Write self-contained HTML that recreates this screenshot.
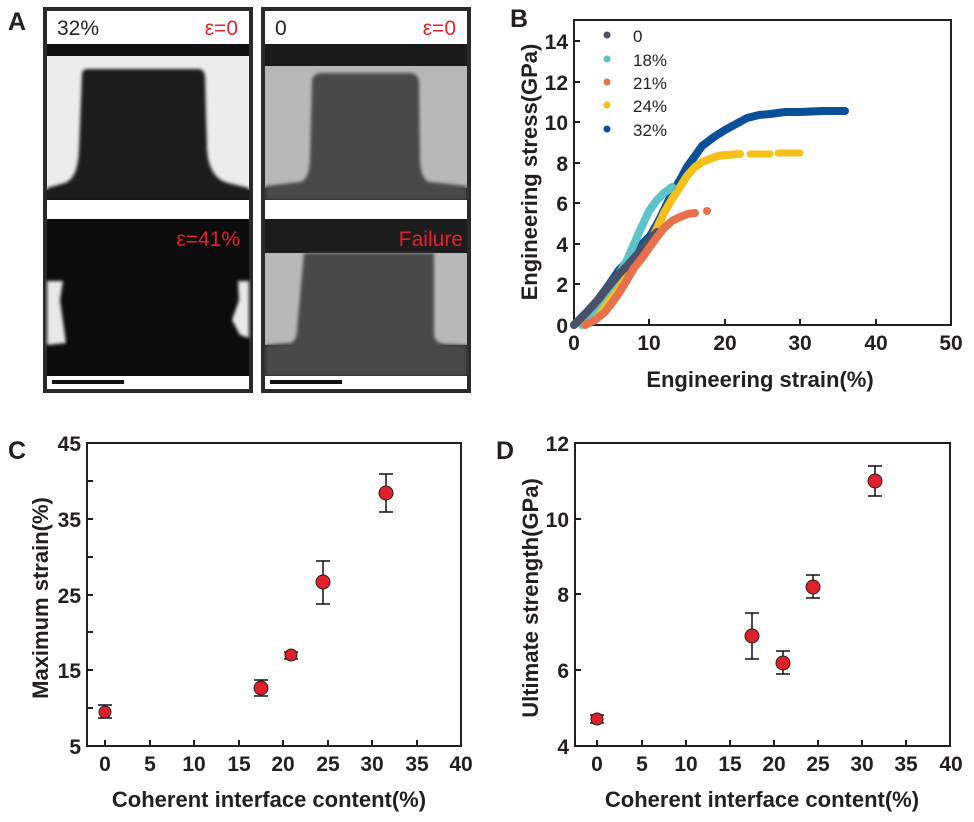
<!DOCTYPE html>
<html><head><meta charset="utf-8"><style>
html,body{margin:0;padding:0;background:#fff;}
svg{display:block;font-family:"Liberation Sans",sans-serif;}
.lbl{font-weight:bold;font-size:25px;fill:#231f20;}
.tk{font-weight:bold;font-size:21px;fill:#231f20;}
.ax{font-weight:bold;font-size:22px;fill:#231f20;}
</style></head><body>
<svg width="974" height="822" viewBox="0 0 974 822" xmlns="http://www.w3.org/2000/svg">
<defs>
<filter id="bl" x="-10%" y="-10%" width="120%" height="120%"><feGaussianBlur stdDeviation="1.5"/></filter>
</defs>
<text class="lbl" x="8" y="30">A</text>
<text class="lbl" x="510" y="27">B</text>
<text class="lbl" x="8" y="459">C</text>
<text class="lbl" x="496" y="459">D</text>

<!-- Panel A left -->
<rect x="43" y="7" width="210" height="386" fill="#2a2a2a"/>
<rect x="47" y="11" width="202" height="33" fill="#fff"/>
<text x="57" y="35" font-size="21" fill="#222">32%</text>
<text x="238" y="35" font-size="21" fill="#e8202a" text-anchor="end">ε=0</text>
<rect x="47" y="44" width="202" height="156" fill="#111"/>
<rect x="47" y="56" width="202" height="134" fill="#ececec"/>
<path d="M82,74 Q82,69 88,69 L198,69 Q204,69 205,76 L207,150 Q209,178 228,183 L249,188 L249,200 L47,200 L47,188 L65,183 Q78,178 79,150 Z" fill="#1e1e1e" filter="url(#bl)"/>
<rect x="47" y="200" width="202" height="19" fill="#fff"/>
<rect x="47" y="219" width="202" height="157" fill="#0c0c0c"/>
<path d="M47,281 L63,281 L60,300 L66,343 L47,345 Z" fill="#e8e8e8" filter="url(#bl)"/>
<path d="M249,281 L238,281 L239,300 L232,320 L240,335 L249,338 Z" fill="#e8e8e8" filter="url(#bl)"/>
<text x="240" y="246" font-size="21" fill="#e8202a" text-anchor="end">ε=41%</text>
<rect x="47" y="376" width="202" height="13" fill="#fff"/>
<rect x="52" y="380" width="72" height="4" fill="#111"/>

<!-- Panel A right -->
<rect x="261" y="7" width="210" height="386" fill="#2a2a2a"/>
<rect x="265" y="11" width="202" height="33" fill="#fff"/>
<text x="275" y="35" font-size="21" fill="#222">0</text>
<text x="456" y="35" font-size="21" fill="#e8202a" text-anchor="end">ε=0</text>
<rect x="265" y="44" width="202" height="156" fill="#1a1a1a"/>
<rect x="265" y="66" width="202" height="122" fill="#b8b8b8"/>
<path d="M312,80 Q314,73 322,73 L410,73 Q418,73 419,82 L420,160 Q421,180 430,182 L467,186 L467,200 L265,200 L265,186 L300,182 Q309,180 310,160 Z" fill="#4a4a4a" filter="url(#bl)"/>
<rect x="265" y="200" width="202" height="19" fill="#fff"/>
<rect x="265" y="219" width="202" height="157" fill="#1c1c1c"/>
<rect x="265" y="253" width="202" height="92" fill="#b8b8b8"/>
<path d="M304,253 L434,253 L434,335 Q435,343 445,344 L467,345 L467,376 L265,376 L265,345 L290,343 Q297,341 297,330 Z" fill="#484848" filter="url(#bl)"/>
<text x="463" y="246" font-size="21" fill="#e8202a" text-anchor="end">Failure</text>
<rect x="265" y="376" width="202" height="13" fill="#fff"/>
<rect x="270" y="380" width="72" height="4" fill="#111"/>

<!-- Panel B -->
<g>
<rect x="574" y="20" width="377" height="305" fill="none" stroke="#231f20" stroke-width="2"/>
<g stroke="#231f20" stroke-width="2">
<line x1="574" y1="325" x2="574" y2="319"/><line x1="649" y1="325" x2="649" y2="319"/><line x1="725" y1="325" x2="725" y2="319"/><line x1="800" y1="325" x2="800" y2="319"/><line x1="876" y1="325" x2="876" y2="319"/>
<line x1="574" y1="284" x2="580" y2="284"/><line x1="574" y1="244" x2="580" y2="244"/><line x1="574" y1="203" x2="580" y2="203"/><line x1="574" y1="163" x2="580" y2="163"/><line x1="574" y1="122" x2="580" y2="122"/><line x1="574" y1="82" x2="580" y2="82"/><line x1="574" y1="41" x2="580" y2="41"/>
</g>
<g class="tk" text-anchor="middle" font-size="23">
<text x="574" y="350">0</text><text x="649" y="350">10</text><text x="725" y="350">20</text><text x="800" y="350">30</text><text x="876" y="350">40</text><text x="951" y="350">50</text>
</g>
<g class="tk" text-anchor="end" font-size="23">
<text x="568" y="333">0</text><text x="568" y="292">2</text><text x="568" y="252">4</text><text x="568" y="211">6</text><text x="568" y="171">8</text><text x="568" y="130">10</text><text x="568" y="90">12</text><text x="568" y="49">14</text>
</g>
<text class="ax" x="760" y="387" text-anchor="middle" font-size="23">Engineering strain(%)</text>
<text class="ax" transform="translate(537,172) rotate(-90)" text-anchor="middle" font-size="24">Engineering stress(GPa)</text>
<g fill="none" stroke-width="8" stroke-linecap="round" stroke-linejoin="round">
<polyline stroke="#0a4f9a" points="574,325 586,313 597,301 608,286 619,270 631,258 642,244 650,236 657,224 665,208 672,193 680,180 687,167 695,156 702,146 714,137 725,130 736,124 747,118 759,115 770,114 785,112 800,112 822,111 845,111"/>
<polyline stroke="#f5c01a" points="582,325 593,313 604,301 616,287 627,274 638,260 649,244 657,228 664,213 672,199 680,187 687,176 695,167 702,162 710,159 718,156 725,155 740,154"/>
<polyline stroke="#5cc4c8" points="582,325 593,310 604,295 612,285 619,274 627,260 634,244 642,226 649,211 657,200 664,193 672,187"/>
<polyline stroke="#4a5068" points="574,325 586,313 597,301 608,287 619,274 627,266 634,258 642,249 649,240 657,232"/>
<polyline stroke="#e8704a" points="585,325 595,320 604,313 612,303 619,293 627,280 634,268 642,258 649,248 657,237 664,228 672,221 680,217 688,214 695,213"/>
</g>
<g stroke="#f5c01a" stroke-width="7" stroke-linecap="round"><line x1="750" y1="154" x2="770" y2="154"/><line x1="778" y1="153" x2="800" y2="153"/></g>
<circle cx="707" cy="211" r="4" fill="#e8704a"/>
<circle cx="607" cy="35" r="3.5" fill="#4a5068"/>
<circle cx="607" cy="59" r="3.5" fill="#5cc4c8"/>
<circle cx="607" cy="82" r="3.5" fill="#e8704a"/>
<circle cx="607" cy="105" r="3.5" fill="#f5c01a"/>
<circle cx="607" cy="129" r="3.5" fill="#0a4f9a"/>
<g font-size="17" fill="#231f20">
<text x="633" y="42">0</text><text x="633" y="66">18%</text><text x="633" y="89">21%</text><text x="633" y="112">24%</text><text x="633" y="136">32%</text>
</g>
</g>

<!-- Panel C -->
<g>
<rect x="87" y="443" width="374" height="303" fill="none" stroke="#231f20" stroke-width="2"/>
<g stroke="#231f20" stroke-width="2">
<line x1="105" y1="746" x2="105" y2="740"/><line x1="150" y1="746" x2="150" y2="740"/><line x1="194" y1="746" x2="194" y2="740"/><line x1="239" y1="746" x2="239" y2="740"/><line x1="283" y1="746" x2="283" y2="740"/><line x1="328" y1="746" x2="328" y2="740"/><line x1="372" y1="746" x2="372" y2="740"/><line x1="417" y1="746" x2="417" y2="740"/>
<line x1="87" y1="708" x2="93" y2="708"/><line x1="87" y1="670" x2="93" y2="670"/><line x1="87" y1="632" x2="93" y2="632"/><line x1="87" y1="595" x2="93" y2="595"/><line x1="87" y1="557" x2="93" y2="557"/><line x1="87" y1="519" x2="93" y2="519"/><line x1="87" y1="481" x2="93" y2="481"/>
</g>
<g class="tk" text-anchor="middle">
<text x="105" y="771">0</text><text x="150" y="771">5</text><text x="194" y="771">10</text><text x="239" y="771">15</text><text x="283" y="771">20</text><text x="328" y="771">25</text><text x="372" y="771">30</text><text x="417" y="771">35</text><text x="461" y="771">40</text>
</g>
<g class="tk" text-anchor="end">
<text x="81" y="754">5</text><text x="81" y="678">15</text><text x="81" y="603">25</text><text x="81" y="527">35</text><text x="81" y="451">45</text>
</g>
<text class="ax" x="269" y="807" text-anchor="middle">Coherent interface content(%)</text>
<text class="ax" transform="translate(48,598) rotate(-90)" text-anchor="middle">Maximum strain(%)</text>
<g stroke="#111" stroke-width="1.5" fill="none">
<path d="M98,705 h14 M98,718 h14 M105,705 v13"/>
<path d="M254,680 h14 M254,696 h14 M261,680 v16"/>
<path d="M284,652 h14 M284,659 h14"/>
<path d="M316,561 h14 M316,604 h14 M323,561 v43"/>
<path d="M379,474 h14 M379,512 h14 M386,474 v38"/>
</g>
<g fill="#e0202a" stroke="#222" stroke-width="1">
<circle cx="105" cy="712" r="6"/><circle cx="261" cy="688" r="7"/><circle cx="291" cy="655" r="6"/><circle cx="323" cy="582" r="7"/><circle cx="386" cy="493" r="7"/>
</g>
</g>

<!-- Panel D -->
<g>
<rect x="575" y="443" width="375" height="303" fill="none" stroke="#231f20" stroke-width="2"/>
<g stroke="#231f20" stroke-width="2">
<line x1="597" y1="746" x2="597" y2="740"/><line x1="642" y1="746" x2="642" y2="740"/><line x1="686" y1="746" x2="686" y2="740"/><line x1="730" y1="746" x2="730" y2="740"/><line x1="774" y1="746" x2="774" y2="740"/><line x1="818" y1="746" x2="818" y2="740"/><line x1="862" y1="746" x2="862" y2="740"/><line x1="906" y1="746" x2="906" y2="740"/>
<line x1="575" y1="670" x2="581" y2="670"/><line x1="575" y1="594" x2="581" y2="594"/><line x1="575" y1="519" x2="581" y2="519"/>
</g>
<g class="tk" text-anchor="middle">
<text x="597" y="771">0</text><text x="642" y="771">5</text><text x="686" y="771">10</text><text x="730" y="771">15</text><text x="774" y="771">20</text><text x="818" y="771">25</text><text x="862" y="771">30</text><text x="906" y="771">35</text><text x="951" y="771">40</text>
</g>
<g class="tk" text-anchor="end">
<text x="569" y="754">4</text><text x="569" y="678">6</text><text x="569" y="602">8</text><text x="569" y="527">10</text><text x="569" y="451">12</text>
</g>
<text class="ax" x="762" y="807" text-anchor="middle">Coherent interface content(%)</text>
<text class="ax" transform="translate(538,598) rotate(-90)" text-anchor="middle">Ultimate strength(GPa)</text>
<g stroke="#111" stroke-width="1.5" fill="none">
<path d="M590,715 h14 M590,723 h14"/>
<path d="M745,613 h14 M745,659 h14 M752,613 v46"/>
<path d="M776,651 h14 M776,674 h14 M783,651 v23"/>
<path d="M806,575 h14 M806,598 h14 M813,575 v23"/>
<path d="M868,466 h14 M868,496 h14 M875,466 v30"/>
</g>
<g fill="#e0202a" stroke="#222" stroke-width="1">
<circle cx="597" cy="719" r="6"/><circle cx="752" cy="636" r="7"/><circle cx="783" cy="663" r="7"/><circle cx="813" cy="587" r="7"/><circle cx="875" cy="481" r="7"/>
</g>
</g>
</svg>
</body></html>
